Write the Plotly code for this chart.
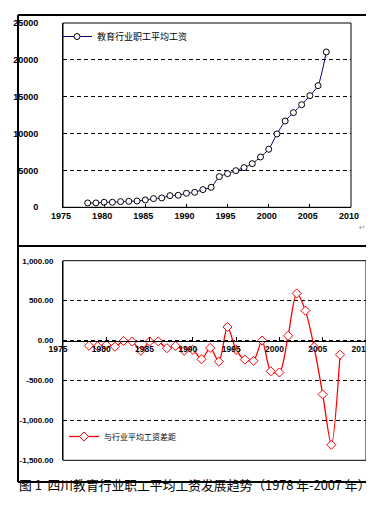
import plotly.graph_objects as go

# ---------------- data ----------------
years = list(range(1978, 2008))
wage = [590, 590, 680, 680, 770, 810, 860, 1000, 1180, 1270,
        1580, 1630, 1900, 2030, 2400, 2710, 4160, 4570, 4970, 5380,
        5920, 6830, 7870, 9950, 11710, 12840, 13920, 15140, 16500, 21070]
gap = [-65, -72, -56, -77, -5, -12, -128, -12, -10, -96,
       -67, -128, -117, -234, -92, -263, 170, -117, -238, -254,
       0, -385, -400, 60, 590, 375, -80, -675, -1305, -178]

x_ticks = [1975, 1980, 1985, 1990, 1995, 2000, 2005, 2010]
x_labels = [str(v) for v in x_ticks]
y1_ticks = [0, 5000, 10000, 15000, 20000, 25000]
y1_labels = ["0", "5000", "10000", "15000", "20000", "25000"]
y2_ticks = [-1500, -1000, -500, 0, 500, 1000]
y2_labels = ["-1,500.00", "-1,000.00", "-500.00", "0.00", "500.00", "1,000.00"]

name1 = "教育行业职工平均工资"
name2 = "与行业平均工资差距"
caption = "图 1  四川教育行业职工平均工资发展趋势（1978 年-2007 年）"

# ---------------- layout helpers ----------------
W, H = 374, 506
def px_x(p):
    return p / W
def px_y(p):
    return 1 - p / H

top_dom_x = [px_x(55), px_x(343)]
top_dom_y = [px_y(199.3), px_y(15)]
bot_dom_x = [px_x(55), px_x(358)]
bot_dom_y = [px_y(452.3), px_y(252.7)]
y2_range = [-1500, 1000]
zero_pos = bot_dom_y[0] + (0 - y2_range[0]) / (y2_range[1] - y2_range[0]) * (bot_dom_y[1] - bot_dom_y[0])

tick_font = dict(family="Liberation Sans, Arial, sans-serif", size=9, color="black", weight="bold")
tick_font2 = dict(family="Liberation Sans, Arial, sans-serif", size=8, color="black", weight="bold")
tick_font3 = dict(family="Liberation Sans, Arial, sans-serif", size=8.5, color="black", weight="bold")
cjk = "Noto Sans CJK SC, sans-serif"

fig = go.Figure()
fig.add_trace(go.Scatter(
    x=years, y=wage, name=name1, mode="lines+markers",
    line=dict(color="#000080", width=1, shape="spline", smoothing=0.6),
    marker=dict(symbol="circle", size=6, color="white", line=dict(color="black", width=1)),
    xaxis="x", yaxis="y", legend="legend",
))
fig.add_trace(go.Scatter(
    x=years, y=gap, name=name2, mode="lines+markers",
    line=dict(color="#FF0000", width=1.3, shape="spline", smoothing=0.8),
    marker=dict(symbol="diamond", size=7, color="white", line=dict(color="#FF0000", width=1)),
    xaxis="x2", yaxis="y2", legend="legend2",
))

fig.update_layout(
    template="none",
    width=W, height=H,
    margin=dict(l=0, r=0, t=0, b=0, autoexpand=False),
    paper_bgcolor="white", plot_bgcolor="white",
    showlegend=True,
    xaxis=dict(domain=top_dom_x, range=[1975, 2010], anchor="y", automargin=False,
               tickvals=x_ticks, ticktext=x_labels, tickfont=tick_font,
               showgrid=False, zeroline=False, showline=True, linecolor="black", linewidth=1,
               ticks="inside", ticklen=3, tickcolor="black", ticklabelstandoff=0,
               ticklabelshift=-2, ticklabeloverflow="allow"),
    yaxis=dict(domain=top_dom_y, range=[0, 25000], anchor="x", automargin=False,
               tickvals=y1_ticks, ticktext=y1_labels, tickfont=tick_font,
               showgrid=True, gridcolor="black", gridwidth=1, griddash="4px,3px",
               zeroline=False, showline=True, linecolor="black", linewidth=1,
               ticks="", ticklabelstandoff=22),
    xaxis2=dict(domain=bot_dom_x, range=[1975, 2010], anchor="free", position=zero_pos,
                automargin=False,
                tickvals=x_ticks, ticktext=x_labels, tickfont=tick_font3,
                showgrid=False, zeroline=False, showline=True, linecolor="black", linewidth=1,
                ticks="inside", ticklen=4, tickcolor="black", ticklabelstandoff=0,
                ticklabelshift=-5, ticklabeloverflow="allow"),
    yaxis2=dict(domain=bot_dom_y, range=y2_range, anchor="x2", automargin=False,
                tickvals=y2_ticks, ticktext=y2_labels, tickfont=tick_font2,
                showgrid=True, gridcolor="black", gridwidth=1, griddash="4px,3px",
                zeroline=False, showline=True, linecolor="black", linewidth=1,
                ticks="", ticklabelstandoff=7),
    legend=dict(x=px_x(49), y=px_y(14), xanchor="left", yanchor="top",
                bgcolor="rgba(0,0,0,0)", borderwidth=0, itemwidth=30,
                font=dict(family=cjk, size=9, color="black")),
    legend2=dict(x=px_x(56), y=px_y(414), xanchor="left", yanchor="top",
                 bgcolor="rgba(0,0,0,0)", borderwidth=0, itemwidth=30,
                 font=dict(family=cjk, size=8, color="black")),
)

shapes = []
# plot-area borders
for xr, yr in (("x domain", "y domain"), ("x2 domain", "y2 domain")):
    shapes.append(dict(type="rect", xref=xr, yref=yr, x0=0, x1=1, y0=0, y1=1,
                       line=dict(color="black", width=1), layer="above"))
# outer table frame
frame = dict(color="black", width=2)
shapes += [
    dict(type="line", xref="paper", yref="paper", x0=px_x(10), x1=px_x(10), y0=px_y(7), y1=px_y(474), line=frame),
    dict(type="line", xref="paper", yref="paper", x0=px_x(365), x1=px_x(365), y0=px_y(7), y1=px_y(474), line=frame),
    dict(type="line", xref="paper", yref="paper", x0=px_x(10), x1=px_x(365), y0=px_y(7), y1=px_y(7), line=frame),
    dict(type="line", xref="paper", yref="paper", x0=px_x(10), x1=px_x(365), y0=px_y(238), y1=px_y(238), line=frame),
    dict(type="line", xref="paper", yref="paper", x0=px_x(10), x1=px_x(365), y0=px_y(474), y1=px_y(474), line=frame),
]
fig.update_layout(shapes=shapes)

fig.add_annotation(text=caption, xref="paper", yref="paper", x=px_x(186), y=px_y(488),
                   showarrow=False, font=dict(family=cjk, size=12.8, color="black"))
for (ax, ay) in ((360, 220), (369, 468)):
    fig.add_annotation(text="↵", xref="paper", yref="paper", x=px_x(ax), y=px_y(ay),
                       showarrow=False, font=dict(family="DejaVu Sans", size=8, color="#999999"))

fig.write_html("out.html")
